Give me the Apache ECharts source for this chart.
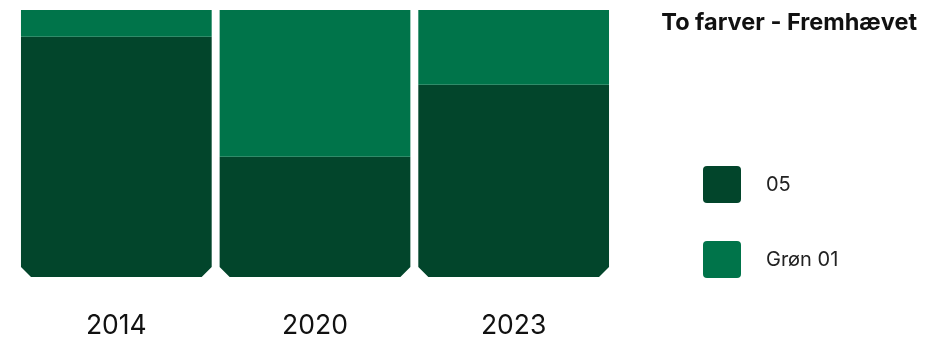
<!DOCTYPE html>
<html>
<head>
<meta charset="utf-8">
<script src="https://cdn.jsdelivr.net/npm/echarts@6/dist/echarts.min.js"></script>
<style>html,body{margin:0;padding:0;background:#fff}#c{width:926px;height:340px}</style>
</head>
<body>
<div id="c"></div>
<script>
const categories = ['2014', '2020', '2023'];
const darkValues = [90, 45, 72];   // "05"
const greenValues = [10, 55, 28];  // "Grøn 01"
const seriesNames = ['05', 'Grøn 01'];
const titleText = 'To farver - Fremhævet';

const colors = ['#02452B', '#00744A'];
const chart = echarts.init(document.getElementById('c'));

function makeRender(isBottom) {
  return function (params, api) {
    const cat = api.value(0);
    const base = api.value(1);
    const top = api.value(2);
    const pBot = api.coord([cat, base]);
    const pTop = api.coord([cat, top]);
    const band = api.size([1, 0])[0];
    const w = band * 0.96;
    const x0 = pBot[0] - w / 2, x1 = pBot[0] + w / 2;
    const yB = pBot[1], yT = pTop[1];
    const c = 10;
    let pts;
    if (isBottom) {
      pts = [[x0, yT], [x1, yT], [x1, yB - c], [x1 - c, yB], [x0 + c, yB], [x0, yB - c]];
    } else {
      pts = [[x0, yT], [x1, yT], [x1, yB], [x0, yB]];
    }
    return { type: 'polygon', shape: { points: pts }, style: { fill: api.visual('color') } };
  };
}

const darkData = categories.map((c, i) => [i, 0, darkValues[i]]);
const greenData = categories.map((c, i) => [i, darkValues[i], darkValues[i] + greenValues[i]]);

chart.setOption({
  animation: false,
  title: {
    text: titleText, right: 4, top: 6,
    textStyle: { fontFamily: 'Inter', fontWeight: 'bold', fontSize: 23.5, color: '#111' }
  },
  legend: {
    orient: 'vertical', left: 703, top: 166, itemGap: 38, padding: 0,
    itemWidth: 38, itemHeight: 37,
    icon: 'path://M4,0 H34 Q38,0 38,4 V33 Q38,37 34,37 H4 Q0,37 0,33 V4 Q0,0 4,0 Z',
    textStyle: { fontFamily: 'Inter', fontSize: 20, color: '#222', padding: [2, 0, 0, 20] },
    data: seriesNames
  },
  grid: { left: 17, right: 313, top: 10, bottom: 60 },
  xAxis: {
    type: 'category', data: categories,
    axisLine: { show: false }, axisTick: { show: false },
    axisLabel: { fontFamily: 'Inter', fontSize: 26.5, color: '#111', margin: 36 }
  },
  yAxis: { type: 'value', min: 0, max: 100, show: false },
  series: [
    { name: seriesNames[0], type: 'custom', renderItem: makeRender(true), itemStyle: { color: colors[0] },
      encode: { x: 0, y: [1, 2] }, data: darkData },
    { name: seriesNames[1], type: 'custom', renderItem: makeRender(false), itemStyle: { color: colors[1] },
      encode: { x: 0, y: [1, 2] }, data: greenData }
  ]
});
</script>
</body>
</html>
